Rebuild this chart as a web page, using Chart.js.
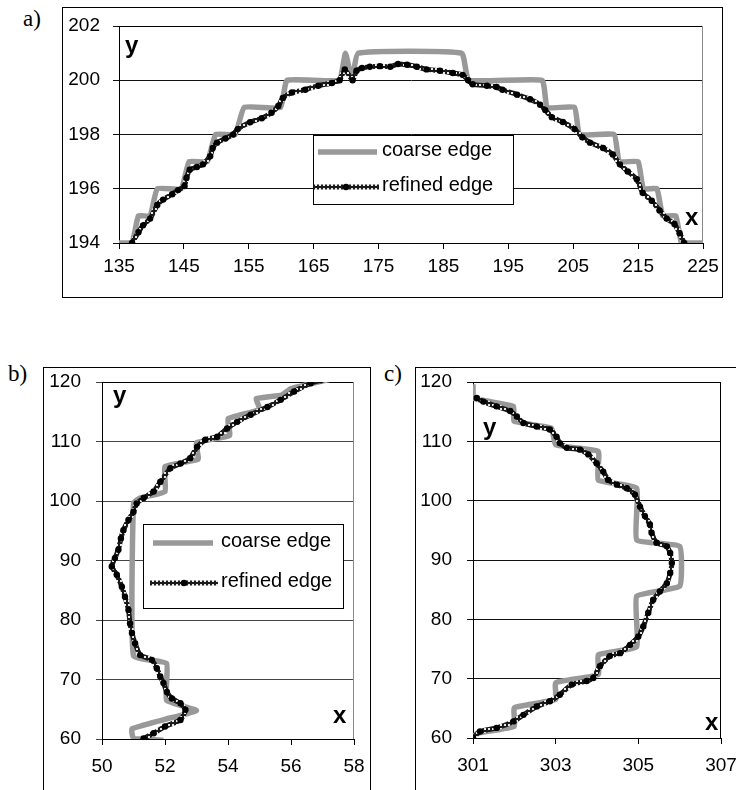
<!DOCTYPE html>
<html>
<head>
<meta charset="utf-8">
<script src="https://cdn.jsdelivr.net/npm/chart.js@4.4.1/dist/chart.umd.min.js"></script>
<style>
  html, body { margin: 0; padding: 0; background: #fff; }
  body { width: 736px; height: 790px; position: relative; overflow: hidden; }
  .frame { position: absolute; border: 1px solid #000; box-sizing: border-box; }
  canvas { position: absolute; }
  .tag { position: absolute; font-family: "Liberation Serif", "Times New Roman", serif; font-size: 23px; line-height: 1; }
</style>
</head>
<body>
<div class="tag" style="left:23px;top:7px">a)</div>
<div class="tag" style="left:8px;top:362px">b)</div>
<div class="tag" style="left:384px;top:362px">c)</div>
<div class="frame" style="left:62px;top:7px;width:661px;height:291px"></div>
<div class="frame" style="left:43px;top:367px;width:328px;height:440px"></div>
<div class="frame" style="left:415px;top:367px;width:400px;height:440px"></div>
<canvas id="chartA" width="660" height="290" style="left:62px;top:7px"></canvas>
<canvas id="chartB" width="327" height="433" style="left:43px;top:367px"></canvas>
<canvas id="chartC" width="330" height="433" style="left:415px;top:367px"></canvas>
<script>
// ---- a) coarse / refined edge, y against x
const aCoarseX = [135, 137, 138, 139.8, 140.9, 144.6, 145.8, 148.6, 149.9, 152.9, 154.3, 159.9, 160.9, 168.9, 169.9, 170.9, 171.9, 187.8, 188.9, 200.2, 201.0, 205.2, 206.0, 211.3, 212.1, 215.0, 215.8, 217.9, 218.8, 220.8, 221.7, 223.5, 225];
const aCoarseY = [194, 194, 195, 195, 196, 196, 197, 197, 198, 198, 199, 199, 200, 200, 201, 200, 201, 201, 200, 200, 199, 199, 198, 198, 197, 197, 196, 196, 195, 195, 194, 194, 194];
const aRefinedX = [137.0, 138.0, 138.7, 139.8, 140.9, 141.8, 143.2, 144.1, 145.1, 145.4, 145.9, 147.0, 147.95, 149.05, 149.45, 150.1, 151.4, 152.6, 153.3, 155.2, 157.0, 158.5, 159.55, 160.25, 161.65, 163.7, 165.7, 167.8, 169.0, 169.8, 171.0, 171.6, 172.45, 173.65, 175.2, 176.8, 178.0, 179.4, 180.9, 182.4, 184.45, 186.45, 187.95, 188.8, 189.5, 191.7, 193.2, 194.1, 196.35, 198.35, 199.9, 200.7, 201.7, 203.4, 205.2, 206.4, 207.6, 209.6, 211.1, 212.2, 213.4, 214.8, 215.7, 217.1, 218.3, 219.4, 220.6, 221.4, 222.1];
const aRefinedY = [194.0, 194.4, 194.65, 194.9, 195.4, 195.6, 195.8, 195.95, 196.1, 196.4, 196.7, 196.8, 196.9, 197.2, 197.5, 197.7, 197.85, 198.0, 198.2, 198.45, 198.6, 198.8, 199.05, 199.35, 199.55, 199.65, 199.8, 199.9, 200.0, 200.4, 200.0, 200.35, 200.45, 200.5, 200.52, 200.5, 200.6, 200.57, 200.5, 200.4, 200.35, 200.27, 200.2, 200.0, 199.85, 199.8, 199.75, 199.65, 199.47, 199.3, 199.1, 198.9, 198.64, 198.46, 198.2, 197.9, 197.7, 197.5, 197.26, 196.9, 196.64, 196.35, 195.85, 195.56, 195.2, 194.9, 194.7, 194.36, 194.0];

// ---- b) edge, x against y
const bCoarseX = [51.95, 51.0, 50.95, 52.0, 53.0, 52.05, 52.05, 51.0, 51.0, 51.2, 52.0, 52.0, 53.05, 53.0, 54.05, 54.0, 55.0, 54.9, 55.7, 56.0, 57.2];
const bCoarseY = [59.8, 60.1, 61.7, 63.3, 64.8, 66.5, 72.7, 74.0, 99.6, 100.5, 101.6, 105.8, 107.0, 109.8, 111.0, 113.8, 115.4, 117.2, 117.8, 118.9, 120.4];
const bRefinedX = [51.32, 51.64, 52.0, 52.49, 52.65, 52.49, 52.22, 52.06, 51.95, 51.85, 51.74, 51.58, 51.21, 51.05, 50.95, 50.89, 50.84, 50.73, 50.63, 50.47, 50.31, 50.41, 50.52, 50.6, 50.68, 50.84, 51.0, 51.1, 51.32, 51.64, 51.85, 52.17, 52.49, 52.8, 53.02, 53.28, 53.66, 53.97, 54.29, 54.72, 55.25, 55.67, 56.1, 56.63, 56.95];
const bRefinedY = [60.1, 60.96, 62.1, 63.2, 64.9, 66.0, 66.8, 67.9, 69.4, 70.5, 71.9, 73.3, 74.1, 76.1, 77.8, 79.4, 81.7, 83.9, 85.6, 87.6, 89.0, 90.4, 91.8, 93.7, 95.1, 96.8, 98.2, 99.6, 100.5, 101.6, 103.2, 105.5, 106.3, 107.2, 109.1, 110.3, 110.8, 112.2, 113.3, 114.5, 115.8, 117.0, 118.4, 119.8, 120.3];

// ---- c) edge, x against y
const cCoarseX = [301.0, 301.1, 302.0, 302.0, 303.0, 303.0, 304.03, 304.03, 304.96, 304.96, 306.0, 306.0, 304.96, 304.96, 304.03, 304.03, 303.0, 302.9, 301.99, 301.98, 301.0, 301.0];
const cCoarseY = [60.0, 60.8, 62.0, 65.1, 66.5, 69.3, 70.7, 74.0, 75.4, 83.9, 85.6, 92.3, 93.4, 102.1, 103.5, 108.3, 109.4, 112.2, 113.4, 115.9, 117.3, 119.6];
const cRefinedX = [301.0, 301.17, 301.57, 301.98, 302.22, 302.54, 302.86, 303.1, 303.39, 303.75, 303.91, 304.07, 304.31, 304.56, 304.8, 305.0, 305.12, 305.24, 305.36, 305.52, 305.69, 305.77, 305.81, 305.77, 305.69, 305.44, 305.32, 305.28, 305.16, 305.04, 304.92, 304.72, 304.48, 304.27, 304.15, 303.99, 303.79, 303.59, 303.27, 303.1, 303.02, 302.86, 302.54, 302.22, 302.06, 301.9, 301.57, 301.25, 301.09];
const cRefinedY = [60.0, 61.1, 61.7, 62.8, 63.9, 65.3, 66.2, 67.3, 69.0, 69.6, 70.1, 72.1, 73.8, 74.3, 75.7, 77.1, 78.8, 81.1, 83.3, 84.7, 86.1, 87.8, 89.5, 91.2, 92.3, 92.9, 94.6, 96.0, 97.4, 99.0, 101.0, 102.1, 102.7, 103.5, 104.9, 106.3, 107.8, 108.6, 108.9, 109.7, 110.8, 112.0, 112.5, 113.1, 114.2, 115.1, 115.9, 116.7, 117.3];

const seriesNames = ["coarse edge", "refined edge"];

const aXTicks = [135, 145, 155, 165, 175, 185, 195, 205, 215, 225];
const aYTicks = [194, 196, 198, 200, 202];
const bXTicks = [50, 52, 54, 56, 58];
const cXTicks = [301, 303, 305, 307];
const bcYTicks = [60, 70, 80, 90, 100, 110, 120];

const SANS = '"Liberation Sans", Arial, sans-serif';

const zip = (xs, ys) => xs.map((x, i) => ({ x, y: ys[i] }));

// little hollow-square texture used for the refined line
function refinedPattern() {
  const c = document.createElement("canvas");
  c.width = 4; c.height = 4;
  const g = c.getContext("2d");
  g.fillStyle = "#1a1a1a"; g.fillRect(0, 0, 4, 4);
  g.fillStyle = "#e6e6e6"; g.fillRect(1, 1, 2, 2);
  return g.createPattern(c, "repeat");
}

// plot border, x/y letters and the boxed legend
const decor = {
  id: "decor",
  beforeDatasetsDraw(chart, args, o) {
    const { ctx, chartArea: a } = chart;
    ctx.save();
    ctx.lineWidth = 1;
    ctx.strokeStyle = "#000";
    const t = Math.round(a.top) + 0.5, r = Math.round(a.right) - 0.5;
    ctx.beginPath(); ctx.moveTo(a.left, t); ctx.lineTo(a.right, t); ctx.stroke();
    ctx.strokeStyle = o.rightColor;
    ctx.beginPath(); ctx.moveTo(r, a.top); ctx.lineTo(r, a.bottom); ctx.stroke();
    ctx.restore();
  },
  afterDatasetsDraw(chart, args, o) {
    const { ctx } = chart;
    ctx.save();
    ctx.fillStyle = "#000";
    ctx.font = "bold 24px " + SANS;
    ctx.textBaseline = "alphabetic";
    o.letters.forEach(l => ctx.fillText(l.t, l.x, l.y));
    const L = o.legend;
    if (L) {
      ctx.fillStyle = "#fff";
      ctx.fillRect(L.x, L.y, L.w, L.h);
      ctx.strokeStyle = "#000";
      ctx.lineWidth = 1;
      ctx.strokeRect(L.x + 0.5, L.y + 0.5, L.w, L.h);
      chart.data.datasets.forEach((ds, i) => {
        const row = L.rows[i];
        ctx.strokeStyle = ds.borderColor;
        ctx.lineWidth = ds.borderWidth;
        ctx.beginPath(); ctx.moveTo(row.x0, row.y); ctx.lineTo(row.x1, row.y); ctx.stroke();
        if (ds.pointRadius) {
          ctx.fillStyle = ds.pointBackgroundColor;
          ctx.beginPath(); ctx.arc((row.x0 + row.x1) / 2, row.y, ds.pointRadius, 0, Math.PI * 2); ctx.fill();
        }
        ctx.fillStyle = "#000";
        ctx.font = "20px " + SANS;
        ctx.textBaseline = "middle";
        ctx.fillText(ds.label, row.tx, row.y - 2);
      });
    }
    ctx.restore();
  }
};

function edgeChart(id, p) {
  return new Chart(document.getElementById(id), {
    type: "scatter",
    data: {
      datasets: [
        {
          label: seriesNames[0],
          data: zip(p.coarseX, p.coarseY),
          showLine: true,
          borderColor: "#999999",
          borderWidth: 5.5,
          pointRadius: 0,
          tension: 0.12,
          order: 1
        },
        {
          label: seriesNames[1],
          data: zip(p.refinedX, p.refinedY),
          showLine: true,
          borderColor: refinedPattern(),
          borderWidth: 5,
          pointRadius: 3.2,
          pointBackgroundColor: "#000",
          pointBorderWidth: 0,
          tension: 0.15,
          order: 0
        }
      ]
    },
    options: {
      responsive: false,
      animation: false,
      events: [],
      layout: { padding: p.pad },
      plugins: {
        legend: { display: false },
        tooltip: { enabled: false },
        decor: { rightColor: p.rightColor, letters: p.letters, legend: p.legend }
      },
      scales: {
        x: {
          type: "linear",
          min: p.xMin, max: p.xMax,
          afterFit: s => { s.height = p.xAxisH; s.paddingLeft = 0; s.paddingRight = 0; },
          afterBuildTicks: s => { s.ticks = p.xTicks.map(v => ({ value: v })); },
          ticks: { color: "#000", font: { family: SANS, size: 19 }, padding: p.xPad, maxRotation: 0, autoSkip: false },
          grid: { drawOnChartArea: false, drawTicks: true, tickLength: 6, color: "#000" },
          border: { color: "#000", width: 1 }
        },
        y: {
          type: "linear",
          min: p.yMin, max: p.yMax,
          afterFit: s => { s.width = p.yAxisW; s.paddingTop = 0; s.paddingBottom = 0; },
          afterBuildTicks: s => { s.ticks = p.yTicks.map(v => ({ value: v })); },
          ticks: { color: "#000", font: { family: SANS, size: 19 }, padding: p.yPad, autoSkip: false },
          grid: { color: p.gridColor, tickLength: 6, drawTicks: true },
          border: { color: "#000", width: 1 }
        }
      }
    },
    plugins: [decor]
  });
}

edgeChart("chartA", {
  coarseX: aCoarseX, coarseY: aCoarseY, refinedX: aRefinedX, refinedY: aRefinedY,
  xMin: 135, xMax: 225, yMin: 194, yMax: 202, xTicks: aXTicks, yTicks: aYTicks,
  pad: { left: 0, top: 19, right: 19, bottom: 0 }, yAxisW: 57, xAxisH: 54,
  xPad: 6, yPad: 13, gridColor: "#111", rightColor: "#888",
  letters: [{ t: "y", x: 63, y: 46 }, { t: "x", x: 623, y: 218 }],
  legend: {
    x: 251, y: 128, w: 200, h: 69,
    rows: [{ x0: 256, x1: 315, y: 145, tx: 320 }, { x0: 251, x1: 317, y: 180, tx: 320 }]
  }
});

edgeChart("chartB", {
  coarseX: bCoarseX, coarseY: bCoarseY, refinedX: bRefinedX, refinedY: bRefinedY,
  xMin: 50, xMax: 58, yMin: 60, yMax: 120, xTicks: bXTicks, yTicks: bcYTicks,
  pad: { left: 0, top: 15, right: 16, bottom: 0 }, yAxisW: 59, xAxisH: 61,
  xPad: 10, yPad: 15, gridColor: "#444", rightColor: "#888",
  letters: [{ t: "y", x: 70, y: 36 }, { t: "x", x: 290, y: 356 }],
  legend: {
    x: 100, y: 157, w: 200, h: 84,
    rows: [{ x0: 110, x1: 170, y: 176, tx: 178 }, { x0: 107, x1: 175, y: 216, tx: 178 }]
  }
});

edgeChart("chartC", {
  coarseX: cCoarseX, coarseY: cCoarseY, refinedX: cRefinedX, refinedY: cRefinedY,
  xMin: 301, xMax: 307, yMin: 60, yMax: 120, xTicks: cXTicks, yTicks: bcYTicks,
  pad: { left: 0, top: 15, right: 24, bottom: 0 }, yAxisW: 58, xAxisH: 62,
  xPad: 10, yPad: 15, gridColor: "#111", rightColor: "#000",
  letters: [{ t: "y", x: 68, y: 68 }, { t: "x", x: 290, y: 363 }],
  legend: null
});
</script>
</body>
</html>
